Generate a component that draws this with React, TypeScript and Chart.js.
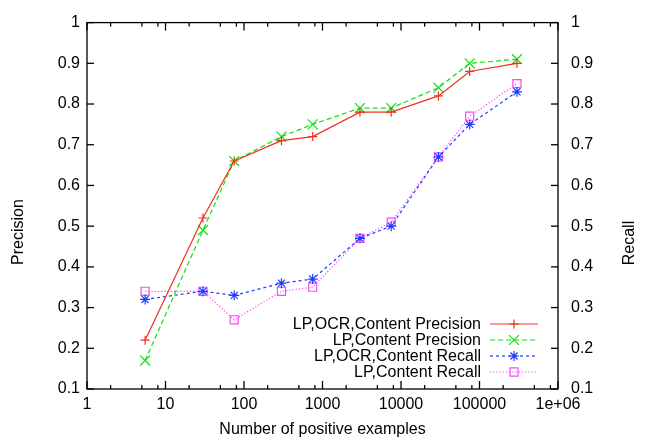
import React, { useEffect, useRef } from 'react';
import { Chart, registerables } from 'chart.js';
import { drawPoint } from 'chart.js/helpers';

Chart.register(...registerables);

const examples = [5.5, 30, 75, 300, 750, 3000, 7500, 30000, 75000, 300000];
const lpOcrPrecision = [0.22, 0.52, 0.66, 0.71, 0.72, 0.78, 0.78, 0.82, 0.88, 0.9];
const lpPrecision = [0.17, 0.49, 0.66, 0.72, 0.75, 0.79, 0.79, 0.84, 0.9, 0.91];
const lpOcrRecall = [0.32, 0.34, 0.33, 0.36, 0.37, 0.47, 0.5, 0.67, 0.75, 0.83];
const lpRecall = [0.34, 0.34, 0.27, 0.34, 0.35, 0.47, 0.51, 0.67, 0.77, 0.85];

const seriesLabels = [
  'LP,OCR,Content Precision',
  'LP,Content Precision',
  'LP,OCR,Content Recall',
  'LP,Content Recall',
];

const xTickValues = [1, 10, 100, 1000, 10000, 100000, 1000000];
const xTickLabels = ['1', '10', '100', '1000', '10000', '100000', '1e+06'];
const xMinorMultipliers = [2, 5, 8];
const yTickValues = [0.1, 0.2, 0.3, 0.4, 0.5, 0.6, 0.7, 0.8, 0.9, 1];
const yTickLabels = ['0.1', '0.2', '0.3', '0.4', '0.5', '0.6', '0.7', '0.8', '0.9', '1'];

const xTitle = 'Number of positive examples';
const yTitle = 'Precision';
const y2Title = 'Recall';

const FONT = "'Liberation Sans', Arial, Helvetica, sans-serif";
const FS = 16;

const framePlugin = {
  id: 'frame',
  afterDraw(chart: any) {
    const { ctx, chartArea: a, scales } = chart;
    ctx.save();
    ctx.strokeStyle = '#000';
    ctx.lineWidth = 1.3;
    ctx.setLineDash([]);
    ctx.strokeRect(a.left, a.top, a.right - a.left, a.bottom - a.top);
    const line = (x1: number, y1: number, x2: number, y2: number) => {
      ctx.beginPath();
      ctx.moveTo(x1, y1);
      ctx.lineTo(x2, y2);
      ctx.stroke();
    };
    xTickValues.forEach((v, i) => {
      const px = scales.x.getPixelForValue(v);
      line(px, a.bottom, px, a.bottom - 8);
      line(px, a.top, px, a.top + 8);
      if (i < xTickValues.length - 1) {
        xMinorMultipliers.forEach((m) => {
          const mx = scales.x.getPixelForValue(v * m);
          line(mx, a.bottom, mx, a.bottom - 4);
          line(mx, a.top, mx, a.top + 4);
        });
      }
    });
    yTickValues.forEach((v) => {
      const py = scales.y.getPixelForValue(v);
      line(a.left, py, a.left + 7, py);
      const py2 = scales.y2.getPixelForValue(v);
      line(a.right, py2, a.right - 7, py2);
    });

    // axis titles
    ctx.fillStyle = '#000';
    ctx.font = `${FS}px ${FONT}`;
    ctx.textAlign = 'center';
    ctx.textBaseline = 'middle';
    ctx.fillText(xTitle, (a.left + a.right) / 2, 430);
    ctx.save();
    ctx.translate(19, 232);
    ctx.rotate(-Math.PI / 2);
    ctx.fillText(yTitle, 0, 0);
    ctx.restore();
    ctx.save();
    ctx.translate(630, 243);
    ctx.rotate(-Math.PI / 2);
    ctx.fillText(y2Title, 0, 0);
    ctx.restore();

    // legend
    chart.data.datasets.forEach((ds: any, i: number) => {
      const y = a.bottom - 65 + 16 * i;
      const textRight = a.right - 77;
      ctx.fillStyle = '#000';
      ctx.textAlign = 'right';
      ctx.textBaseline = 'middle';
      ctx.font = `${FS}px ${FONT}`;
      ctx.fillText(ds.label, textRight, y + 1);
      ctx.strokeStyle = ds.borderColor;
      ctx.lineWidth = ds.borderWidth;
      ctx.setLineDash(ds.borderDash || []);
      line(textRight + 9, y, textRight + 57, y);
      ctx.setLineDash([]);
      ctx.fillStyle = 'rgba(0,0,0,0)';
      ctx.strokeStyle = ds.pointBorderColor;
      ctx.lineWidth = ds.pointBorderWidth;
      drawPoint(ctx, { pointStyle: ds.pointStyle, radius: ds.pointRadius, rotation: 0, borderWidth: ds.pointBorderWidth } as any, textRight + 33, y);
    });
    ctx.restore();
  },
};

function toPoints(ys: number[]) {
  return examples.map((x, i) => ({ x, y: ys[i] }));
}

export default function App() {
  const ref = useRef<HTMLCanvasElement | null>(null);
  useEffect(() => {
    if (!ref.current) return;
    const mk = (label: string, data: number[], color: string, dash: number[], style: string, radius: number, axis: string) => ({
      label,
      data: toPoints(data),
      borderColor: color,
      backgroundColor: 'rgba(0,0,0,0)',
      borderWidth: 1.2,
      borderDash: dash,
      pointStyle: style,
      pointRadius: radius,
      pointHoverRadius: radius,
      pointBorderColor: color,
      pointBackgroundColor: 'rgba(0,0,0,0)',
      pointBorderWidth: 1.2,
      yAxisID: axis,
      tension: 0,
    });
    const chart = new Chart(ref.current, {
      type: 'line',
      data: {
        datasets: [
          mk(seriesLabels[0], lpOcrPrecision, '#f0301c', [], 'cross', 4.5, 'y'),
          mk(seriesLabels[1], lpPrecision, '#10e010', [5, 3], 'crossRot', 7, 'y'),
          mk(seriesLabels[2], lpOcrRecall, '#1e3cff', [3, 3], 'star', 5, 'y2'),
          mk(seriesLabels[3], lpRecall, '#ff44ff', [1.2, 2], 'rect', 5.7, 'y2'),
        ] as any,
      },
      plugins: [framePlugin],
      options: {
        responsive: false,
        animation: false,
        layout: { padding: { top: 13, left: 0, right: 0, bottom: 0 } },
        plugins: { legend: { display: false }, tooltip: { enabled: false } },
        scales: {
          x: {
            type: 'logarithmic',
            min: 1,
            max: 1000000,
            grid: { display: false, drawTicks: false },
            border: { display: false },
            afterBuildTicks: (s: any) => {
              s.ticks = xTickValues.map((v) => ({ value: v }));
            },
            afterFit: (s: any) => {
              s.height = 53;
            },
            ticks: {
              autoSkip: false,
              maxRotation: 0,
              padding: 6,
              color: '#000',
              font: { family: FONT, size: FS },
              callback: (_v: any, i: number) => xTickLabels[i],
            },
          },
          y: {
            type: 'linear',
            position: 'left',
            min: 0.1,
            max: 1,
            grid: { display: false, drawTicks: false },
            border: { display: false },
            afterBuildTicks: (s: any) => {
              s.ticks = yTickValues.map((v) => ({ value: v }));
            },
            afterFit: (s: any) => {
              s.width = 87;
            },
            ticks: {
              padding: 7,
              color: '#000',
              font: { family: FONT, size: FS },
              callback: (_v: any, i: number) => yTickLabels[i],
            },
          },
          y2: {
            type: 'linear',
            position: 'right',
            min: 0.1,
            max: 1,
            grid: { display: false, drawTicks: false },
            border: { display: false },
            afterBuildTicks: (s: any) => {
              s.ticks = yTickValues.map((v) => ({ value: v }));
            },
            afterFit: (s: any) => {
              s.width = 90;
            },
            ticks: {
              padding: 13,
              color: '#000',
              font: { family: FONT, size: FS },
              callback: (_v: any, i: number) => yTickLabels[i],
            },
          },
        },
      } as any,
    });
    return () => chart.destroy();
  }, []);
  return (
    <div style={{ position: 'fixed', left: 0, top: 0, width: 648, height: 442, background: '#fff' }}>
      <canvas ref={ref} width={648} height={442} style={{ width: 648, height: 442, display: 'block' }} />
    </div>
  );
}
